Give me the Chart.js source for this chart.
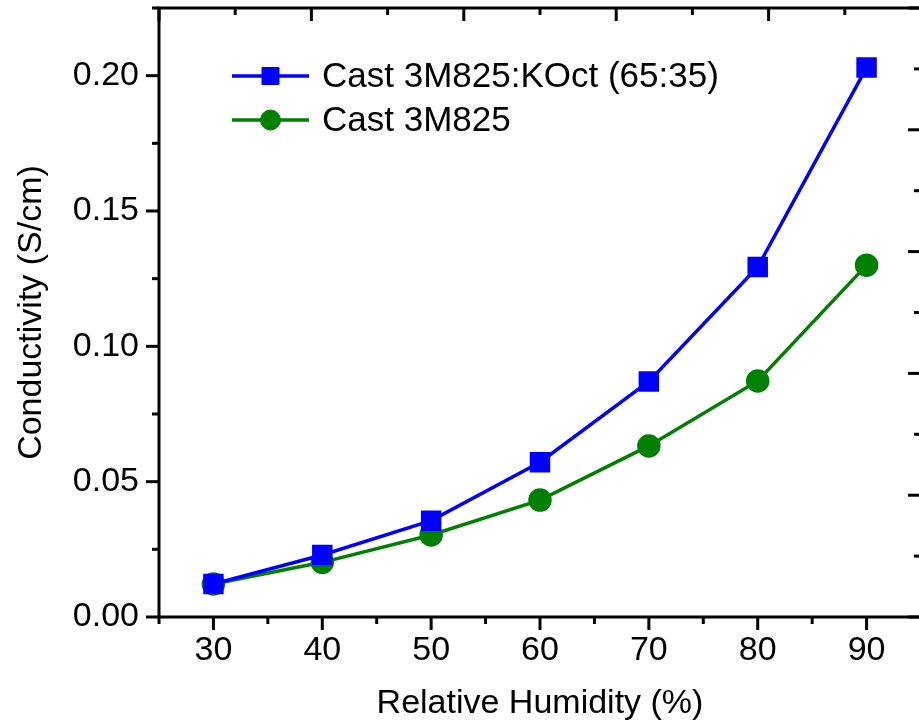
<!DOCTYPE html>
<html>
<head>
<meta charset="utf-8">
<script src="https://cdn.jsdelivr.net/npm/chart.js@4"></script>
<style>
  html, body { margin: 0; padding: 0; background: #fff; overflow: hidden; }
  #wrap { width: 935px; height: 726px; }
</style>
</head>
<body>
<div id="wrap"><canvas id="chart" width="935" height="726"></canvas></div>
<script>
const FONT = '"Liberation Sans", Arial, sans-serif';

// relative humidity (%)
const humidity = [30, 40, 50, 60, 70, 80, 90];
// conductivity (S/cm)
const koct = [0.0122, 0.0229, 0.0356, 0.0572, 0.087, 0.1293, 0.203];
const cast = [0.0122, 0.0202, 0.0303, 0.0432, 0.0632, 0.0872, 0.130];

const seriesNames = ["Cast 3M825:KOct (65:35)", "Cast 3M825"];

// axis ticks
const xMajor = [30, 40, 50, 60, 70, 80, 90];
const xMinor = [25, 35, 45, 55, 65, 75, 85, 95];
const yMajor = [0, 0.05, 0.1, 0.15, 0.2];
const yMinor = [0.025, 0.075, 0.125, 0.175, 0.225];
// mirrored top/right axes have their own (unlabelled) scale
const mirrorMajor = [0, 1, 2, 3, 4, 5];
const mirrorMinor = [0.5, 1.5, 2.5, 3.5, 4.5];

const BLUE = "#0000ff";
const GREEN = "#008000";

const toPts = (ys) => humidity.map((x, i) => ({ x, y: ys[i] }));
const fixTicks = (vals) => (s) => { s.ticks = vals.map((v) => ({ value: v })); };
// fixed box sizes, no extra label overhang padding
const fitTo = (w, h) => (s) => {
  if (w != null) s.width = w;
  if (h != null) s.height = h;
  s.paddingTop = s.paddingBottom = s.paddingLeft = s.paddingRight = 0;
};

// frame + ticks in the Origin style: outer on left/bottom, inner on top/right
const frame = {
  id: "frame",
  afterDraw(chart) {
    const { ctx, chartArea: a, scales } = chart;
    const MAJ = 13, MIN = 7;
    ctx.save();
    ctx.strokeStyle = "#000";
    ctx.lineWidth = 3;
    ctx.lineCap = "butt";
    const line = (x1, y1, x2, y2) => {
      ctx.beginPath(); ctx.moveTo(x1, y1); ctx.lineTo(x2, y2); ctx.stroke();
    };
    line(a.left - 1.5, a.top, a.right + 1.5, a.top);
    line(a.left - 1.5, a.bottom, a.right + 1.5, a.bottom);
    line(a.left, a.top, a.left, a.bottom);
    line(a.right, a.top, a.right, a.bottom);

    xMajor.forEach((v) => { const p = scales.x.getPixelForValue(v); line(p, a.bottom, p, a.bottom + MAJ); });
    xMinor.forEach((v) => { const p = scales.x.getPixelForValue(v); line(p, a.bottom, p, a.bottom + MIN); });
    yMajor.forEach((v) => { const p = scales.y.getPixelForValue(v); line(a.left, p, a.left - MAJ, p); });
    yMinor.forEach((v) => { const p = scales.y.getPixelForValue(v); line(a.left, p, a.left - MIN, p); });
    mirrorMajor.forEach((v) => {
      const px = scales.x2.getPixelForValue(v); line(px, a.top, px, a.top + MAJ);
      const py = scales.y2.getPixelForValue(v); line(a.right, py, a.right - MAJ, py);
    });
    mirrorMinor.forEach((v) => {
      const px = scales.x2.getPixelForValue(v); line(px, a.top, px, a.top + MIN);
      const py = scales.y2.getPixelForValue(v); line(a.right, py, a.right - MIN, py);
    });
    ctx.restore();
  },
};

// legend drawn inside the plot, line + marker + label
const insideLegend = {
  id: "insideLegend",
  afterDatasetsDraw(chart) {
    const { ctx, chartArea: a } = chart;
    ctx.save();
    ctx.font = "35px " + FONT;
    ctx.textBaseline = "middle";
    chart.data.datasets.forEach((ds, i) => {
      const y = a.top + 68 + i * 44;
      const x1 = a.left + 73, x2 = a.left + 150;
      ctx.strokeStyle = ds.borderColor;
      ctx.lineWidth = ds.borderWidth;
      ctx.beginPath(); ctx.moveTo(x1, y); ctx.lineTo(x2, y); ctx.stroke();
      ctx.fillStyle = ds.pointBackgroundColor;
      ctx.strokeStyle = ds.pointBorderColor;
      ctx.lineWidth = 1;
      Chart.helpers.drawPoint(ctx, { pointStyle: ds.pointStyle, radius: ds.pointRadius, rotation: 0, borderWidth: 1 }, (x1 + x2) / 2, y);
      ctx.fillStyle = "#000";
      ctx.fillText(ds.label, a.left + 163, y + 1);
    });
    ctx.restore();
  },
};

new Chart(document.getElementById("chart"), {
  type: "line",
  data: {
    datasets: [
      {
        label: seriesNames[0],
        data: toPts(koct),
        borderColor: BLUE,
        backgroundColor: BLUE,
        pointBackgroundColor: BLUE,
        pointBorderColor: BLUE,
        pointStyle: "rect",
        pointRadius: 12,
        borderWidth: 3.5,
        tension: 0,
      },
      {
        label: seriesNames[1],
        data: toPts(cast),
        borderColor: GREEN,
        backgroundColor: GREEN,
        pointBackgroundColor: GREEN,
        pointBorderColor: GREEN,
        pointStyle: "circle",
        pointRadius: 10,
        borderWidth: 3.5,
        tension: 0,
      },
    ],
  },
  options: {
    responsive: false,
    animation: false,
    devicePixelRatio: 1,
    layout: { padding: 0, autoPadding: false },
    plugins: { legend: { display: false }, tooltip: { enabled: false } },
    scales: {
      x: {
        type: "linear",
        position: "bottom",
        min: 25,
        max: 95,
        afterBuildTicks: fixTicks(xMajor),
        afterFit: fitTo(null, 109),
        grid: { display: false },
        border: { display: false },
        ticks: { color: "#000", font: { family: FONT, size: 34 }, padding: 5, maxRotation: 0 },
        title: {
          display: true,
          text: "Relative Humidity (%)",
          color: "#000",
          font: { family: FONT, size: 34 },
          padding: { top: 0, bottom: 2 },
        },
      },
      y: {
        type: "linear",
        position: "left",
        min: 0,
        max: 0.225,
        afterBuildTicks: fixTicks(yMajor),
        afterFit: fitTo(159, null),
        grid: { display: false },
        border: { display: false },
        ticks: { color: "#000", font: { family: FONT, size: 34 }, padding: 12, callback: (v) => v.toFixed(2) },
        title: {
          display: true,
          text: "Conductivity (S/cm)",
          color: "#000",
          font: { family: FONT, size: 34 },
          padding: { top: 11, bottom: 0 },
        },
      },
      x2: {
        type: "linear",
        position: "top",
        min: 0,
        max: 5,
        afterFit: fitTo(null, 8),
        grid: { display: false },
        border: { display: false },
        ticks: { display: false },
      },
      y2: {
        type: "linear",
        position: "right",
        min: 0,
        max: 5,
        afterFit: fitTo(14, null),
        grid: { display: false },
        border: { display: false },
        ticks: { display: false },
      },
    },
  },
  plugins: [frame, insideLegend],
});
</script>
</body>
</html>
